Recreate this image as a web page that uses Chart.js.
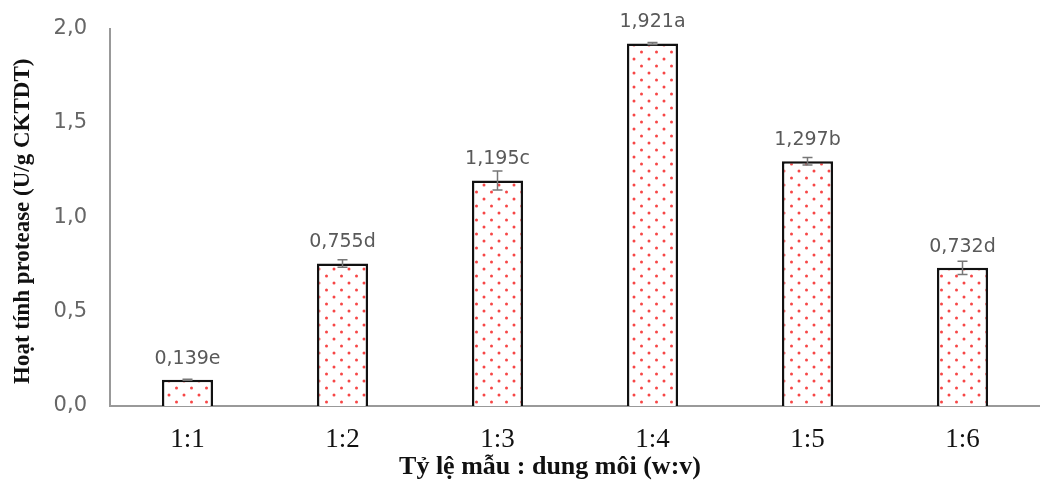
<!DOCTYPE html>
<html><head><meta charset="utf-8">
<script src="https://cdn.jsdelivr.net/npm/chart.js@4/dist/chart.umd.min.js"></script>
<style>html,body{margin:0;padding:0;background:#fff}#wrap{width:1040px;height:482px}</style>
</head><body><div id="wrap"><canvas id="c"></canvas></div>
<script>
const categories = ["1:1","1:2","1:3","1:4","1:5","1:6"];
const values = [0.139, 0.755, 1.195, 1.921, 1.297, 0.732];
const errors = [0.003, 0.02, 0.05, 0.005, 0.02, 0.035];
const letters = ["e","d","c","a","b","d"];
const yTicks = [0, 0.5, 1.0, 1.5, 2.0];
const xTitle = "Tỷ lệ mẫu : dung môi (w:v)";
const yTitle = "Hoạt tính protease (U/g CKTDT)";

function makePattern(){
  const p = document.createElement('canvas');
  p.width = 15; p.height = 14;
  const g = p.getContext('2d');
  g.fillStyle = '#fff'; g.fillRect(0,0,15,14);
  g.fillStyle = 'rgba(245,50,50,0.9)';
  [[4,3],[11.5,10]].forEach(([x,y])=>{g.beginPath();g.arc(x,y,1.5,0,Math.PI*2);g.fill();});
  return document.getElementById('c').getContext('2d').createPattern(p,'repeat');
}

const overlay = {
  id:'overlay',
  afterDatasetsDraw(chart){
    const ctx = chart.ctx, y = chart.scales.y, meta = chart.getDatasetMeta(0);
    ctx.save();
    meta.data.forEach((bar,i)=>{
      const x = bar.x;
      const yt = y.getPixelForValue(values[i]+errors[i]);
      const yb = y.getPixelForValue(values[i]-errors[i]);
      ctx.strokeStyle = '#777'; ctx.lineWidth = 1.5;
      ctx.beginPath();
      ctx.moveTo(x,yt); ctx.lineTo(x,yb);
      ctx.moveTo(x-5,yt); ctx.lineTo(x+5,yt);
      ctx.moveTo(x-5,yb); ctx.lineTo(x+5,yb);
      ctx.stroke();
      ctx.fillStyle = '#595959';
      ctx.font = '19px "DejaVu Sans"';
      ctx.textAlign = 'center'; ctx.textBaseline = 'middle';
      ctx.fillText(values[i].toFixed(3).replace('.',',')+letters[i], x, y.getPixelForValue(values[i]) - 21);
    });
    ctx.restore();
  },
  afterDraw(chart){
    const ctx = chart.ctx, a = chart.chartArea;
    ctx.save();
    ctx.fillStyle = '#111';
    ctx.textAlign = 'center'; ctx.textBaseline = 'middle';
    ctx.font = 'bold 26px "Liberation Serif"';
    ctx.fillText(xTitle, 550, 467);
    ctx.translate(23, (a.top + a.bottom)/2 + 4);
    ctx.rotate(-Math.PI/2);
    ctx.font = 'bold 23px "Liberation Serif"';
    ctx.fillText(yTitle, 0, 0);
    ctx.restore();
  }
};

new Chart(document.getElementById('c'),{
  type:'bar',
  data:{labels:categories,datasets:[{data:values,backgroundColor:makePattern(),borderColor:'#111',borderWidth:2.5,barPercentage:0.33,categoryPercentage:1.0}]},
  options:{
    responsive:true,maintainAspectRatio:false,animation:false,
    layout:{padding:{top:23,right:0,left:0,bottom:0}},
    plugins:{legend:{display:false},tooltip:{enabled:false}},
    scales:{
      x:{
        afterFit(s){s.height = 76;},
        grid:{display:false,drawTicks:false},
        border:{color:'#999',width:2},
        ticks:{color:'#111',font:{family:'"Liberation Serif"',size:27},padding:18}
      },
      y:{
        min:0,max:2,
        afterBuildTicks(s){s.ticks = yTicks.map(v=>({value:v}));},
        afterFit(s){s.width = 110;},
        grid:{display:false,drawOnChartArea:false,drawTicks:true,tickLength:7,color:'#999',tickWidth:2},
        border:{color:'#999',width:2},
        ticks:{color:'#666',font:{family:'"DejaVu Sans"',size:21},padding:16,callback:v=>v.toFixed(1).replace('.',',')}
      }
    }
  },
  plugins:[overlay]
});
</script></body></html>
